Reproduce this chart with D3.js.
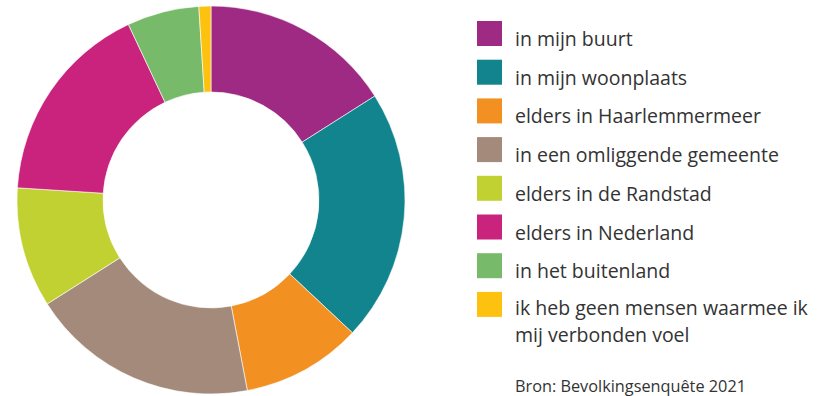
<!DOCTYPE html>
<html>
<head>
<meta charset="utf-8">
<script src="https://cdn.jsdelivr.net/npm/d3@7"></script>
<style>
  body { margin: 0; background: #fff; }
  svg { display: block; }
  text { font-family: "Open Sans", "Noto Sans", sans-serif; fill: #333; }
</style>
</head>
<body>
<div id="chart"></div>
<script>
// share of respondents per category (percent)
const categories = [
   "in mijn buurt",
   "in mijn woonplaats",
   "elders in Haarlemmermeer",
   "in een omliggende gemeente",
   "elders in de Randstad",
   "elders in Nederland",
   "in het buitenland",
   "ik heb geen mensen waarmee ik\nmij verbonden voel"
];
const values = [16, 21, 10, 19, 10, 17, 6, 1];
const colors = ["#9e2a84", "#12848e", "#f29022", "#a38a7b", "#c1d132", "#c9237e", "#77bb6a", "#fdc210"];
const source = "Bron: Bevolkingsenquête 2021";

const width = 818, height = 396;
const cx = 211, cy = 200;
const outerR = 194, innerR = 108;

let data = categories.map((c, i) => ({name: c, value: values[i], color: colors[i]}));

let svg = d3.select("#chart")
   .append("svg")
   .attr("width", width)
   .attr("height", height);

let pie = d3.pie().sort(null).value(d => d.value);
let arc = d3.arc().innerRadius(innerR).outerRadius(outerR);

svg.append("g")
   .attr("transform", "translate(" + cx + "," + cy + ")")
   .selectAll("path")
   .data(pie(data))
   .enter().append("path")
   .attr("d", arc)
   .attr("fill", d => d.data.color)
   .attr("stroke", "#fff")
   .attr("stroke-width", 0.6);

// legend
let y = d3.scaleBand().domain(categories).range([21, 21 + 38.7 * 8]);

let legend = svg.append("g")
   .selectAll("g")
   .data(data)
   .enter().append("g")
   .attr("transform", d => "translate(477," + y(d.name) + ")");

legend.append("rect")
   .attr("width", 25)
   .attr("height", 25)
   .attr("fill", d => d.color);

// multi-line labels: one text per line
legend.each(function (d) {
   let lines = d.name.split("\n");
   let top = lines.length > 1 ? 23 : 25;
   d3.select(this).selectAll("text")
      .data(lines)
      .enter().append("text")
      .attr("x", 38)
      .attr("y", (l, i) => top + i * 27)
      .style("font-size", "19.5px")
      .text(l => l);
});

svg.append("text")
   .attr("x", 515)
   .attr("y", 392)
   .style("font-size", "16.3px")
   .text(source);
</script>
</body>
</html>
